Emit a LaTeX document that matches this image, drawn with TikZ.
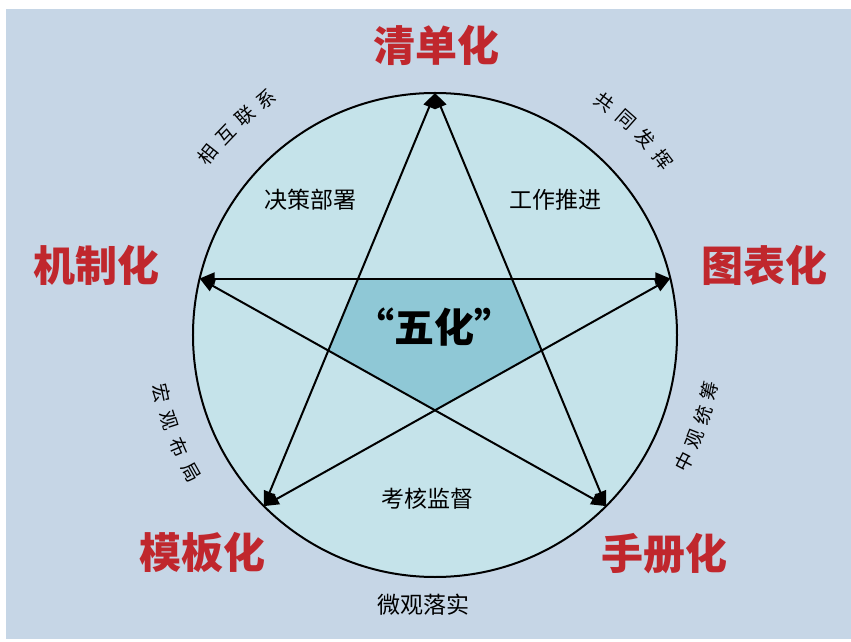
\documentclass[tikz,border=0pt]{standalone}
\usepackage{fontspec}
\newfontfamily\cjk{Noto Sans CJK SC}
\usetikzlibrary{arrows.meta}

\definecolor{bgblue}{HTML}{C6D6E6}
\definecolor{discblue}{HTML}{C5E3EA}
\definecolor{coreblue}{HTML}{8FC8D6}
\definecolor{labelred}{HTML}{C0272D}

\begin{document}
\begin{tikzpicture}[x=1pt,y=1pt,
    red label/.style={font=\cjk\bfseries\fontsize{42}{42}\selectfont, text=labelred},
    inner label/.style={font=\cjk\fontsize{23}{23}\selectfont},
    arc char/.style={font=\cjk\fontsize{19}{19}\selectfont, inner sep=0pt},
    star line/.style={line width=2pt,
        {Triangle[length=15pt,width=12pt]}-{Triangle[length=15pt,width=12pt]}}
    ]

    \useasboundingbox[fill=white] (-435,-307) rectangle (416,335);
    \fill[bgblue] (-429,-304) rectangle (416,326);

    % disc and star points
    \draw[line width=2pt, fill=discblue] (0,0) circle (242);
    \coordinate (t) at (90:242);
    \coordinate (l) at (166.5:242);
    \coordinate (r) at (13.5:242);
    \coordinate (bl) at (225:242);
    \coordinate (br) at (315:242);

    \fill[coreblue] (intersection of t--bl and l--r)
        -- (intersection of t--br and l--r)
        -- (intersection of t--br and r--bl)
        -- (intersection of l--br and r--bl)
        -- (intersection of t--bl and l--br) -- cycle;

    \draw[star line] (t) -- (bl);
    \draw[star line] (t) -- (br);
    \draw[star line] (l) -- (r);
    \draw[star line] (l) -- (br);
    \draw[star line] (r) -- (bl);

    \node [red label] (clear) at (2,290) {清单化};
    \node [red label] (mech) at (-338,70) {机制化};
    \node [red label] (chart) at (329,70) {图表化};
    \node [red label] (templ) at (-232,-218) {模板化};
    \node [red label] (manual) at (229,-219) {手册化};

    \node [font=\cjk\bfseries\fontsize{40}{40}\selectfont] (core) at (0,8) {“五化”};
    \node [inner label] (decide) at (-124,135) {决策部署};
    \node [inner label] (advance) at (120,135) {工作推进};
    \node [inner label] (assess) at (-7,-164) {考核监督};
    \node [inner label] (micro) at (-11,-270) {微观落实};

    % labels bent round the disc
    \foreach \ch [count=\i] in {相,互,联,系} {
        \pgfmathsetmacro\a{141.5-5.3*(\i-1)}
        \node [arc char, rotate=\a-90] (link\i) at (\a:290) {\ch};
    }
    \foreach \ch [count=\i] in {共,同,发,挥} {
        \pgfmathsetmacro\a{54-5.5*(\i-1)}
        \node [arc char, rotate=\a-90] (joint\i) at (\a:288) {\ch};
    }
    \foreach \ch [count=\i] in {宏,观,布,局} {
        \pgfmathsetmacro\a{192+5.8*(\i-1)}
        \node [arc char, rotate=\a+90] (macro\i) at (\a:280) {\ch};
    }
    \foreach \ch [count=\i] in {中,观,统,筹} {
        \pgfmathsetmacro\a{-27+5.2*(\i-1)}
        \node [arc char, rotate=\a+90] (meso\i) at (\a:280) {\ch};
    }
\end{tikzpicture}
\end{document}
